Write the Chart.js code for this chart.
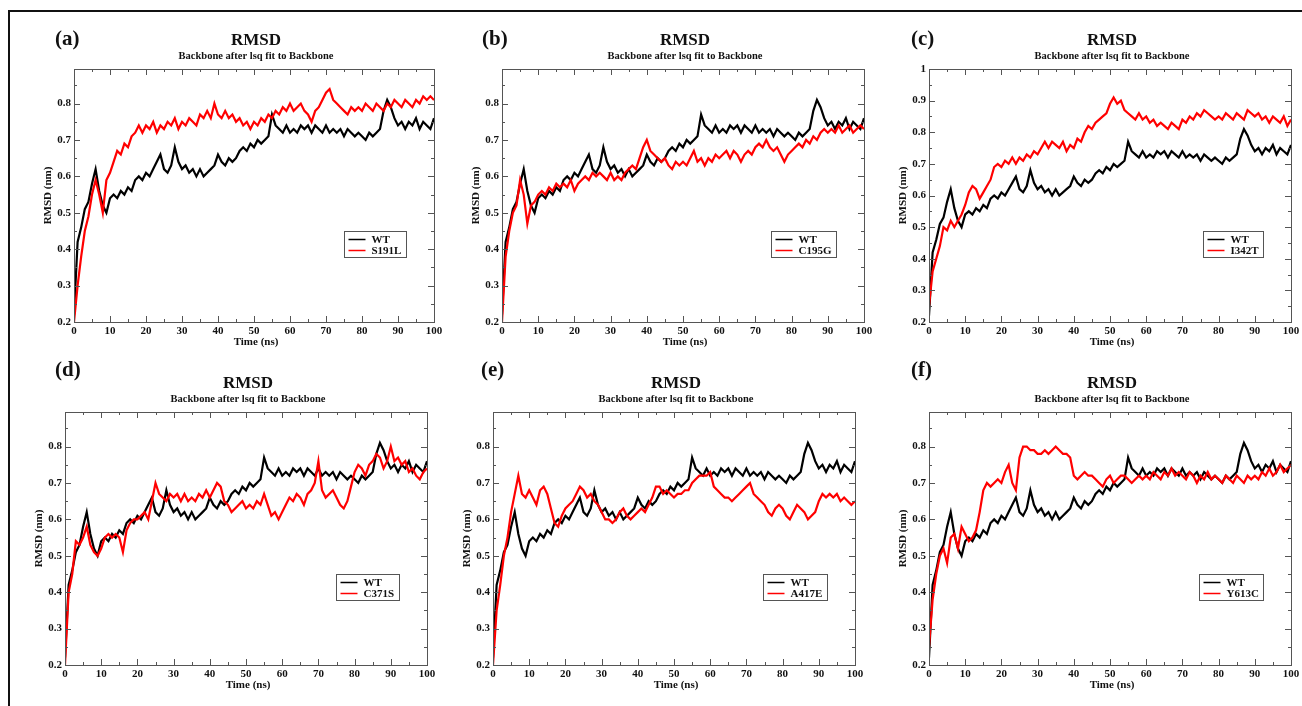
<!DOCTYPE html>
<html>
<head>
<meta charset="utf-8">
<title>RMSD</title>
<script src="https://cdn.jsdelivr.net/npm/chart.js@4.4.1/dist/chart.umd.min.js"></script>
<style>
  html, body { margin: 0; padding: 0; background: #fff; }
  #fig { position: relative; width: 1302px; height: 706px; overflow: hidden; background: #fff; }
  #frame { position: absolute; left: 8px; top: 10px; width: 1300px; height: 700px; border-left: 2px solid #111; border-top: 2px solid #111; }
  canvas { position: absolute; }
</style>
</head>
<body>
<div id="fig"><div id="frame"></div></div>
<script>
// time axis (ns)
const time = [0,1,2,3,4,5,6,7,8,9,10,11,12,13,14,15,16,17,18,19,20,21,22,23,24,25,26,27,28,29,30,
  31,32,33,34,35,36,37,38,39,40,41,42,43,44,45,46,47,48,49,50,51,52,53,54,55,56,57,58,59,60,
  61,62,63,64,65,66,67,68,69,70,71,72,73,74,75,76,77,78,79,80,81,82,83,84,85,86,87,88,89,90,
  91,92,93,94,95,96,97,98,99,100]

// RMSD (nm), every 1 ns
const wt = [0.22,0.42,0.46,0.51,0.53,0.58,0.62,0.56,0.52,0.50,0.54,0.55,0.54,0.56,0.55,0.57,0.56,0.59,0.60,0.59,
  0.61,0.60,0.62,0.64,0.66,0.62,0.61,0.63,0.68,0.64,0.62,0.63,0.61,0.62,0.60,0.62,0.60,0.61,0.62,0.63,
  0.66,0.64,0.63,0.65,0.64,0.65,0.67,0.68,0.67,0.69,0.68,0.70,0.69,0.70,0.71,0.77,0.74,0.73,0.72,0.74,
  0.72,0.73,0.72,0.74,0.73,0.74,0.72,0.74,0.73,0.72,0.74,0.72,0.73,0.72,0.73,0.71,0.73,0.72,0.71,0.72,
  0.71,0.70,0.72,0.71,0.72,0.73,0.78,0.81,0.79,0.76,0.74,0.75,0.73,0.75,0.74,0.76,0.73,0.75,0.74,0.73,0.76]

const s191l = [0.20,0.30,0.38,0.45,0.49,0.55,0.59,0.55,0.50,0.59,0.61,0.64,0.67,0.66,0.69,0.68,0.71,0.72,0.74,0.72,
  0.74,0.73,0.75,0.72,0.74,0.73,0.75,0.74,0.76,0.73,0.75,0.74,0.76,0.75,0.74,0.77,0.76,0.78,0.76,0.80,
  0.77,0.76,0.78,0.76,0.77,0.75,0.76,0.74,0.75,0.73,0.75,0.74,0.76,0.75,0.77,0.76,0.78,0.77,0.79,0.78,
  0.80,0.78,0.79,0.80,0.78,0.77,0.75,0.78,0.79,0.81,0.83,0.84,0.81,0.80,0.79,0.78,0.77,0.79,0.78,0.79,
  0.78,0.80,0.79,0.78,0.80,0.79,0.78,0.80,0.79,0.81,0.80,0.79,0.81,0.80,0.79,0.81,0.80,0.82,0.81,0.82,0.81]

const c195g = [0.20,0.38,0.45,0.50,0.52,0.59,0.55,0.47,0.52,0.53,0.55,0.56,0.55,0.57,0.56,0.58,0.57,0.58,0.57,0.59,
  0.56,0.58,0.59,0.60,0.59,0.61,0.60,0.61,0.60,0.59,0.61,0.59,0.60,0.59,0.61,0.62,0.63,0.62,0.65,0.68,
  0.70,0.67,0.66,0.65,0.64,0.65,0.63,0.62,0.64,0.63,0.64,0.63,0.65,0.67,0.64,0.65,0.63,0.65,0.64,0.66,
  0.65,0.66,0.67,0.65,0.67,0.66,0.64,0.66,0.67,0.66,0.68,0.69,0.68,0.70,0.68,0.67,0.68,0.66,0.64,0.66,
  0.67,0.68,0.69,0.68,0.70,0.69,0.71,0.70,0.72,0.73,0.72,0.73,0.72,0.74,0.72,0.73,0.74,0.72,0.73,0.74,0.73]

const i342t = [0.25,0.36,0.40,0.44,0.50,0.49,0.52,0.50,0.52,0.54,0.57,0.61,0.63,0.62,0.59,0.61,0.63,0.65,0.69,0.70,
  0.69,0.71,0.70,0.72,0.70,0.72,0.71,0.73,0.72,0.74,0.73,0.75,0.77,0.75,0.77,0.76,0.75,0.77,0.74,0.76,
  0.75,0.78,0.77,0.80,0.82,0.81,0.83,0.84,0.85,0.86,0.89,0.91,0.89,0.90,0.87,0.86,0.85,0.84,0.86,0.84,
  0.85,0.83,0.84,0.82,0.83,0.82,0.81,0.83,0.82,0.81,0.84,0.83,0.85,0.84,0.86,0.85,0.87,0.86,0.85,0.84,
  0.85,0.84,0.86,0.85,0.84,0.86,0.85,0.84,0.87,0.86,0.85,0.86,0.84,0.85,0.83,0.85,0.84,0.83,0.85,0.82,0.84]

const c371s = [0.20,0.40,0.45,0.54,0.53,0.55,0.58,0.53,0.51,0.50,0.52,0.55,0.56,0.55,0.56,0.55,0.51,0.57,0.59,0.60,
  0.60,0.61,0.62,0.60,0.65,0.70,0.67,0.66,0.65,0.67,0.66,0.67,0.65,0.67,0.65,0.66,0.65,0.67,0.66,0.68,
  0.66,0.68,0.70,0.69,0.65,0.64,0.62,0.63,0.64,0.65,0.63,0.64,0.63,0.65,0.64,0.67,0.64,0.61,0.62,0.60,
  0.62,0.64,0.66,0.65,0.67,0.66,0.64,0.67,0.68,0.70,0.76,0.68,0.66,0.67,0.68,0.66,0.64,0.63,0.65,0.69,
  0.73,0.75,0.74,0.72,0.75,0.76,0.78,0.77,0.74,0.76,0.80,0.76,0.77,0.75,0.76,0.73,0.74,0.72,0.71,0.73,0.74]

const a417e = [0.20,0.35,0.42,0.50,0.55,0.62,0.67,0.72,0.67,0.66,0.68,0.66,0.64,0.68,0.69,0.67,0.63,0.59,0.58,0.61,
  0.63,0.64,0.65,0.67,0.69,0.68,0.66,0.67,0.65,0.64,0.62,0.60,0.60,0.59,0.60,0.62,0.63,0.61,0.60,0.61,
  0.62,0.63,0.62,0.64,0.66,0.69,0.69,0.67,0.68,0.67,0.66,0.67,0.67,0.68,0.68,0.70,0.71,0.72,0.72,0.72,
  0.73,0.69,0.68,0.67,0.66,0.66,0.65,0.66,0.67,0.68,0.69,0.70,0.67,0.66,0.65,0.64,0.62,0.61,0.63,0.64,
  0.63,0.61,0.60,0.62,0.64,0.63,0.62,0.60,0.61,0.62,0.65,0.67,0.66,0.67,0.66,0.67,0.65,0.66,0.65,0.64,0.65]

const y613c = [0.25,0.38,0.45,0.50,0.52,0.48,0.55,0.56,0.52,0.58,0.56,0.54,0.55,0.57,0.62,0.68,0.70,0.69,0.70,0.71,
  0.70,0.73,0.75,0.70,0.68,0.77,0.80,0.80,0.79,0.79,0.78,0.78,0.79,0.78,0.79,0.80,0.79,0.78,0.78,0.77,
  0.72,0.71,0.72,0.73,0.72,0.72,0.71,0.70,0.69,0.71,0.72,0.70,0.71,0.72,0.72,0.71,0.70,0.71,0.72,0.71,
  0.72,0.71,0.73,0.72,0.71,0.73,0.72,0.74,0.72,0.73,0.72,0.71,0.73,0.72,0.70,0.72,0.71,0.73,0.71,0.72,
  0.71,0.70,0.72,0.71,0.70,0.72,0.71,0.70,0.72,0.71,0.72,0.71,0.73,0.72,0.74,0.72,0.73,0.75,0.73,0.74,0.75]

const panelLabels = ['(a)', '(b)', '(c)', '(d)', '(e)', '(f)']
const mutantNames = ['S191L', 'C195G', 'I342T', 'C371S', 'A417E', 'Y613C']
const mutantData = [s191l, c195g, i342t, c371s, a417e, y613c]
const yMaxes = [0.895, 0.895, 1, 0.895, 0.895, 0.895]

// plot-area boxes on the page
const boxes = [
  { left: 74, top: 69, right: 434, bottom: 322, labX: 55, labY: 40 },
  { left: 502, top: 69, right: 864, bottom: 322, labX: 482, labY: 40 },
  { left: 929, top: 69, right: 1291, bottom: 322, labX: 911, labY: 40 },
  { left: 65, top: 412, right: 427, bottom: 665, labX: 55, labY: 371 },
  { left: 493, top: 412, right: 855, bottom: 665, labX: 481, labY: 371 },
  { left: 929, top: 412, right: 1291, bottom: 665, labX: 911, labY: 371 }
]

const SERIF = '"Liberation Serif", "DejaVu Serif", serif'
const PAD_L = 62, PAD_T = 62, PAD_R = 14, PAD_B = 42

const decoPlugin = {
  id: 'deco',
  afterDraw(chart, args, opts) {
    const { ctx, chartArea: a, scales: { x, y } } = chart
    ctx.save()

    // frame + inward ticks on all sides
    ctx.strokeStyle = '#555'
    ctx.lineWidth = 1
    ctx.strokeRect(Math.round(a.left) + 0.5, Math.round(a.top) + 0.5, Math.round(a.right - a.left), Math.round(a.bottom - a.top))
    ctx.beginPath()
    const xt = x.ticks.map(t => t.value)
    xt.forEach((v, i) => {
      const px = Math.round(x.getPixelForValue(v)) + 0.5
      ctx.moveTo(px, a.bottom); ctx.lineTo(px, a.bottom - 6)
      ctx.moveTo(px, a.top); ctx.lineTo(px, a.top + 6)
      if (i < xt.length - 1) {
        const mx = Math.round(x.getPixelForValue((v + xt[i + 1]) / 2)) + 0.5
        ctx.moveTo(mx, a.bottom); ctx.lineTo(mx, a.bottom - 3)
        ctx.moveTo(mx, a.top); ctx.lineTo(mx, a.top + 3)
      }
    })
    const yt = y.ticks.map(t => t.value)
    yt.forEach((v, i) => {
      const py = Math.round(y.getPixelForValue(v)) + 0.5
      ctx.moveTo(a.left, py); ctx.lineTo(a.left + 6, py)
      ctx.moveTo(a.right, py); ctx.lineTo(a.right - 6, py)
      const nv = i < yt.length - 1 ? yt[i + 1] : v + 0.1
      const my = y.getPixelForValue((v + nv) / 2)
      if (my > a.top + 1) {
        const myr = Math.round(my) + 0.5
        ctx.moveTo(a.left, myr); ctx.lineTo(a.left + 3, myr)
        ctx.moveTo(a.right, myr); ctx.lineTo(a.right - 3, myr)
      }
    })
    ctx.stroke()

    const cx = (a.left + a.right) / 2 + 2
    ctx.fillStyle = '#111'
    ctx.textAlign = 'center'
    ctx.textBaseline = 'middle'

    // titles
    ctx.font = 'bold 17px ' + SERIF
    ctx.fillText('RMSD', cx, a.top - 28)
    ctx.font = 'bold 10.5px ' + SERIF
    ctx.fillText('Backbone after lsq fit to Backbone', cx, a.top - 13)

    // axis titles
    ctx.font = 'bold 11px ' + SERIF
    ctx.fillText('Time (ns)', cx, a.bottom + 20)
    ctx.save()
    ctx.translate(a.left - 26, (a.top + a.bottom) / 2)
    ctx.rotate(-Math.PI / 2)
    ctx.fillText('RMSD (nm)', 0, 0)
    ctx.restore()

    // panel letter
    ctx.textAlign = 'left'
    ctx.font = 'bold 21px ' + SERIF
    ctx.fillText(opts.letter, opts.labX, opts.labY)

    // legend box inside plot
    ctx.font = 'bold 11px ' + SERIF
    const names = chart.data.datasets.map(d => d.label)
    const tw = Math.max(...names.map(n => ctx.measureText(n).width))
    const bw = Math.round(27 + tw + 5)
    const bx = Math.round(a.right - 28 - bw) + 0.5
    const by = Math.round(a.top + 162) + 0.5
    ctx.fillStyle = '#fff'
    ctx.fillRect(bx, by, bw, 26)
    ctx.strokeStyle = '#555'
    ctx.strokeRect(bx, by, bw, 26)
    chart.data.datasets.forEach((d, i) => {
      const ly = by + 8 + i * 11
      ctx.strokeStyle = d.borderColor
      ctx.lineWidth = 1.5
      ctx.beginPath()
      ctx.moveTo(bx + 4, ly); ctx.lineTo(bx + 21, ly)
      ctx.stroke()
      ctx.fillStyle = '#111'
      ctx.fillText(d.label, bx + 27, ly + 1)
    })
    ctx.restore()
  }
}

function crearPanel(i) {
  const b = boxes[i]
  const canvas = document.createElement('canvas')
  const cw = b.right - b.left + PAD_L + PAD_R
  const ch = b.bottom - b.top + PAD_T + PAD_B
  const cxp = b.left - PAD_L
  const cyp = b.top - PAD_T
  canvas.width = cw
  canvas.height = ch
  canvas.style.left = cxp + 'px'
  canvas.style.top = cyp + 'px'
  canvas.style.width = cw + 'px'
  canvas.style.height = ch + 'px'
  document.getElementById('fig').appendChild(canvas)

  new Chart(canvas.getContext('2d'), {
    type: 'line',
    data: {
      labels: time,
      datasets: [{
        label: 'WT',
        data: wt,
        borderColor: '#000000',
        borderWidth: 2.2,
        pointRadius: 0,
        tension: 0,
        order: 2
      }, {
        label: mutantNames[i],
        data: mutantData[i],
        borderColor: '#ff0000',
        borderWidth: 2.2,
        pointRadius: 0,
        tension: 0,
        order: 1
      }]
    },
    options: {
      responsive: false,
      animation: false,
      devicePixelRatio: 1,
      layout: { padding: { left: 0, top: PAD_T, right: PAD_R, bottom: 0 } },
      plugins: {
        legend: { display: false },
        tooltip: { enabled: false },
        deco: { letter: panelLabels[i], labX: b.labX - cxp, labY: b.labY - cyp }
      },
      scales: {
        x: {
          type: 'linear',
          min: 0,
          max: 100,
          grid: { display: false, drawTicks: false },
          border: { display: false },
          ticks: { stepSize: 10, padding: 3, color: '#111', font: { family: SERIF, size: 11, weight: 'bold' }, maxRotation: 0 },
          afterFit(scale) { scale.height = PAD_B }
        },
        y: {
          min: 0.2,
          max: yMaxes[i],
          grid: { display: false, drawTicks: false },
          border: { display: false },
          ticks: {
            stepSize: 0.1,
            includeBounds: false,
            padding: 3,
            color: '#111',
            font: { family: SERIF, size: 11, weight: 'bold' },
            callback: v => String(Number(v.toFixed(2)))
          },
          afterFit(scale) { scale.width = PAD_L }
        }
      }
    },
    plugins: [decoPlugin]
  })
}

for (let i = 0; i < 6; i++) crearPanel(i)
</script>
</body>
</html>
